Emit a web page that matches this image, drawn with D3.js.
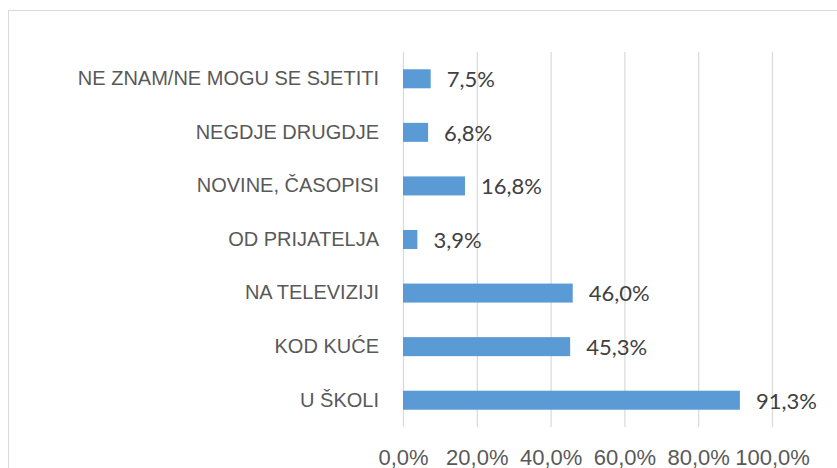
<!DOCTYPE html>
<html>
<head>
<meta charset="utf-8">
<script src="https://cdn.jsdelivr.net/npm/d3@7"></script>
<style>
  body { margin: 0; background: #fff; }
  svg { display: block; font-family: Lato, "Open Sans", sans-serif; }
</style>
</head>
<body>
<div id="chart"></div>
<script>
// chart data
const categories = ["NE ZNAM/NE MOGU SE SJETITI", "NEGDJE DRUGDJE", "NOVINE, ČASOPISI", "OD PRIJATELJA", "NA TELEVIZIJI", "KOD KUĆE", "U ŠKOLI"];
const values = [7.5, 6.8, 16.8, 3.9, 46.0, 45.3, 91.3];
const tickValues = [0, 20, 40, 60, 80, 100];

const fmt = d => d.toFixed(1).replace(".", ",") + "%";

function draw() {
  const width = 837, height = 468;

  const svg = d3.select("#chart")
    .append("svg")
    .attr("width", width)
    .attr("height", height);

  // outer chart border (runs past the right and bottom edge)
  svg.append("rect")
    .attr("x", 8.5)
    .attr("y", 10.5)
    .attr("width", 900)
    .attr("height", 500)
    .attr("fill", "none")
    .attr("stroke", "#d9d9d9");

  const x = d3.scaleLinear()
    .domain([0, 100])
    .range([403, 772]);

  const y = d3.scaleBand()
    .domain(categories)
    .range([52, 427])
    .paddingInner(0.645)
    .paddingOuter(0.3225);

  // x axis with gridlines
  const xAxis = svg.append("g")
    .attr("transform", "translate(0,427)")
    .call(d3.axisBottom(x)
      .tickValues(tickValues)
      .tickSize(-375)
      .tickPadding(22)
      .tickFormat(fmt));
  xAxis.select(".domain").remove();
  xAxis.selectAll(".tick line").attr("stroke", "#d9d9d9").attr("stroke-width", 1.2);
  xAxis.selectAll(".tick text")
    .attr("fill", "#595959")
    .style("font-size", "22px");

  // category axis
  const yAxis = svg.append("g")
    .attr("transform", "translate(403,0)")
    .call(d3.axisLeft(y).tickSize(0).tickPadding(24));
  yAxis.select(".domain").remove();
  yAxis.selectAll(".tick text")
    .attr("fill", "#595959")
    .style("font-size", "20px");

  // bars
  svg.append("g")
    .selectAll("rect")
    .data(values)
    .join("rect")
    .attr("x", x(0))
    .attr("y", (d, i) => y(categories[i]))
    .attr("width", d => x(d) - x(0))
    .attr("height", y.bandwidth())
    .attr("fill", "#5b9bd5");

  // value labels
  svg.append("g")
    .selectAll("text")
    .data(values)
    .join("text")
    .attr("x", d => x(d) + 16)
    .attr("y", (d, i) => y(categories[i]) + y.bandwidth() / 2)
    .attr("dy", "0.38em")
    .attr("fill", "#404040")
    .style("font-size", "22px")
    .text(fmt);
}

draw();
</script>
</body>
</html>
